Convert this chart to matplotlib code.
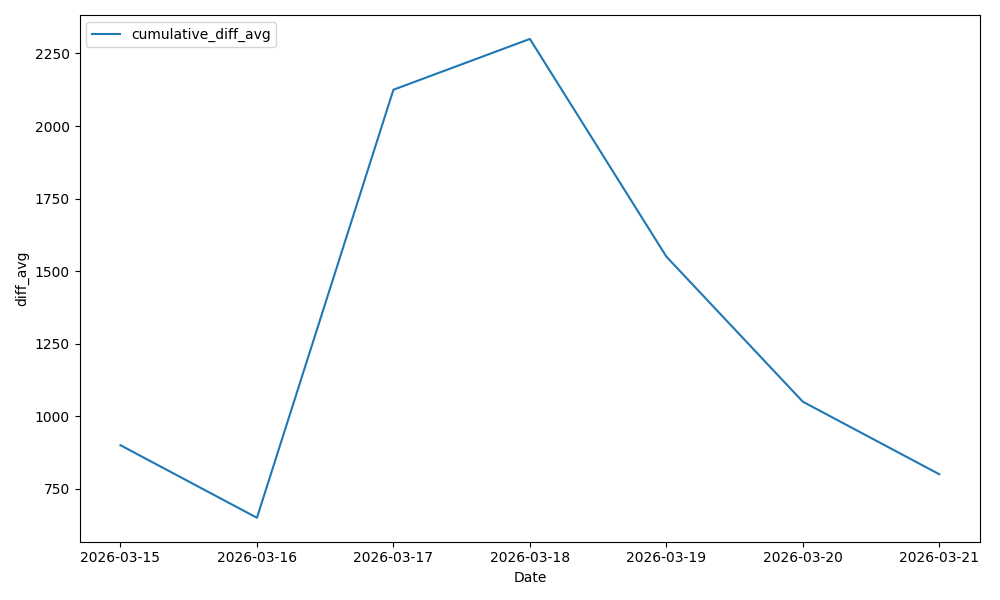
import matplotlib
matplotlib.use("Agg")
import matplotlib.pyplot as plt

# Data
dates = ['2026-03-15', '2026-03-16', '2026-03-17', '2026-03-18',
         '2026-03-19', '2026-03-20', '2026-03-21']
diff_avg = [900, 650, 2125, 2300, 1550, 1050, 800]

fig, ax = plt.subplots(figsize=(10, 6), dpi=100)
ax.plot(dates, diff_avg, label='cumulative_diff_avg')

ax.set_xlabel('Date')
ax.set_ylabel('diff_avg')
ax.legend(loc='upper left')

plt.tight_layout()
plt.savefig('out.png')
